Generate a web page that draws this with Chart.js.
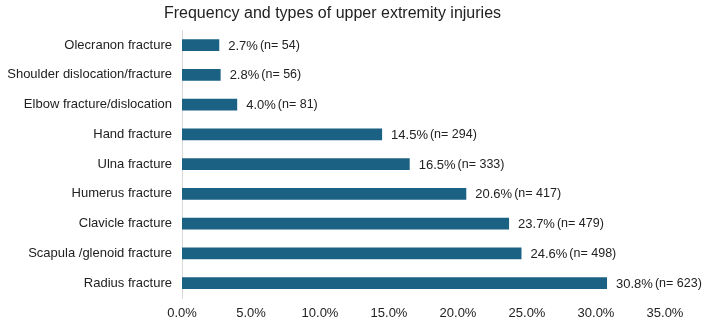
<!DOCTYPE html>
<html>
<head>
<meta charset="utf-8">
<script src="https://cdn.jsdelivr.net/npm/chart.js@4"></script>
<style>
  html, body { margin: 0; padding: 0; background: #fff; }
  #wrap { width: 708px; height: 319px; }
</style>
</head>
<body>
<div id="wrap"><canvas id="chart" width="708" height="319"></canvas></div>
<script>
const categories = [
  'Olecranon fracture',
  'Shoulder dislocation/fracture',
  'Elbow fracture/dislocation',
  'Hand fracture',
  'Ulna fracture',
  'Humerus fracture',
  'Clavicle fracture',
  'Scapula /glenoid fracture',
  'Radius fracture'
];
const percents = [2.7, 2.8, 4.0, 14.5, 16.5, 20.6, 23.7, 24.6, 30.8];
const counts = [54, 56, 81, 294, 333, 417, 479, 498, 623];
const xTicks = [0, 5, 10, 15, 20, 25, 30, 35];

const FONT = "'Liberation Sans', Arial, sans-serif";

// value + count label after each bar
const barLabels = {
  id: 'barLabels',
  afterDatasetsDraw(chart) {
    const ctx = chart.ctx;
    const meta = chart.getDatasetMeta(0);
    ctx.save();
    ctx.textBaseline = 'middle';
    ctx.fillStyle = '#222';
    meta.data.forEach((bar, i) => {
      let x = bar.x + 9;
      const y = bar.y + 1;
      ctx.font = '13px ' + FONT;
      const pct = percents[i].toFixed(1) + '%';
      ctx.fillText(pct, x, y);
      x += ctx.measureText(pct).width + 2;
      ctx.font = '12.5px ' + FONT;
      ctx.fillText('(n= ' + counts[i] + ')', x, y - 1);
    });
    ctx.restore();
  }
};

new Chart(document.getElementById('chart'), {
  type: 'bar',
  data: {
    labels: categories,
    datasets: [{
      data: percents,
      backgroundColor: '#1b6184',
      borderWidth: 0,
      barPercentage: 0.8,
      categoryPercentage: 0.5
    }]
  },
  plugins: [barLabels],
  options: {
    indexAxis: 'y',
    responsive: false,
    animation: false,
    layout: { padding: { left: 0, right: 43, top: 0, bottom: 0 } },
    plugins: {
      legend: { display: false },
      tooltip: { enabled: false },
      title: {
        display: true,
        text: 'Frequency and types of upper extremity injuries',
        color: '#222',
        font: { family: FONT, size: 16, weight: 'normal' },
        padding: { top: 4, bottom: 7 }
      }
    },
    scales: {
      x: {
        min: 0,
        max: 35,
        afterBuildTicks(scale) {
          scale.ticks = xTicks.map(v => ({ value: v }));
        },
        afterFit(scale) { scale.height = 21; },
        grid: { display: false, drawTicks: false },
        border: { display: false },
        ticks: {
          color: '#222',
          font: { family: FONT, size: 13 },
          padding: 8,
          callback: v => v.toFixed(1) + '%'
        }
      },
      y: {
        afterFit(scale) { scale.width = 182; },
        grid: { display: false, drawTicks: false },
        border: { display: true, color: '#d9d9d9', width: 1 },
        ticks: {
          color: '#222',
          font: { family: FONT, size: 13 },
          padding: 10
        }
      }
    }
  }
});
</script>
</body>
</html>
